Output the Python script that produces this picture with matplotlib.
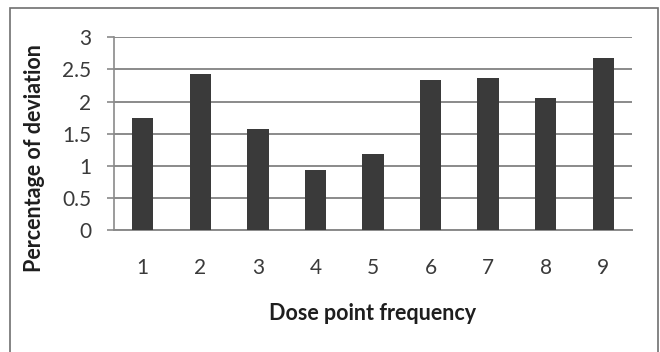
import matplotlib.pyplot as plt
from matplotlib.patches import Rectangle

plt.rcParams['font.family'] = ['Lato', 'DejaVu Sans']

frequency = ['1', '2', '3', '4', '5', '6', '7', '8', '9']
deviation = [1.75, 2.43, 1.57, 0.93, 1.18, 2.33, 2.37, 2.05, 2.68]
yticks = [0, 0.5, 1, 1.5, 2, 2.5, 3]
ytick_labels = ['0', '0.5', '1', '1.5', '2', '2.5', '3']

fig = plt.figure(figsize=(6.6, 3.52), dpi=100)
ax = fig.add_axes([0.1727, 0.3466, 0.7849, 0.5474])

pos = range(len(frequency))
ax.bar(pos, deviation, width=0.37, color='#3a3a3a', zorder=3)

ax.set_xlim(-0.5, len(frequency) - 0.5)
ax.set_ylim(0, 3)
ax.set_yticks(yticks)
ax.set_yticklabels(ytick_labels)
ax.set_xticks(list(pos))
ax.set_xticklabels(frequency)

ax.grid(axis='y', color='#8a8a8a', linewidth=1.4, zorder=1)
for side in ['top', 'right', 'bottom']:
    ax.spines[side].set_visible(False)
ax.spines['left'].set_color('#8a8a8a')
ax.spines['left'].set_linewidth(1.2)
ax.axhline(0, color='#8a8a8a', linewidth=1.4, zorder=2, clip_on=False)

ax.tick_params(axis='y', length=5, width=1.2, color='#8a8a8a',
               labelsize=15, labelcolor='#3a3a3a', pad=11.5)
ax.tick_params(axis='x', length=0, labelsize=15, labelcolor='#3a3a3a', pad=20)

ax.set_xlabel('Dose point frequency', fontsize=15.5, fontweight='bold',
              color='#1e1e1e', va='center')
ax.xaxis.set_label_coords(0.5, -0.431)
ax.set_ylabel('Percentage of deviation', fontsize=15.5, fontweight='bold',
              color='#1e1e1e', va='center')
ax.yaxis.set_label_coords(-0.153, 0.372)

# outer frame around the whole chart
fig.patches.append(Rectangle((10 / 660, -0.01), 648 / 660, 1 - 8 / 352 + 0.01,
                             transform=fig.transFigure, fill=False,
                             edgecolor='#6f6f6f', linewidth=1.2))

fig.savefig('out.png', dpi=100)
